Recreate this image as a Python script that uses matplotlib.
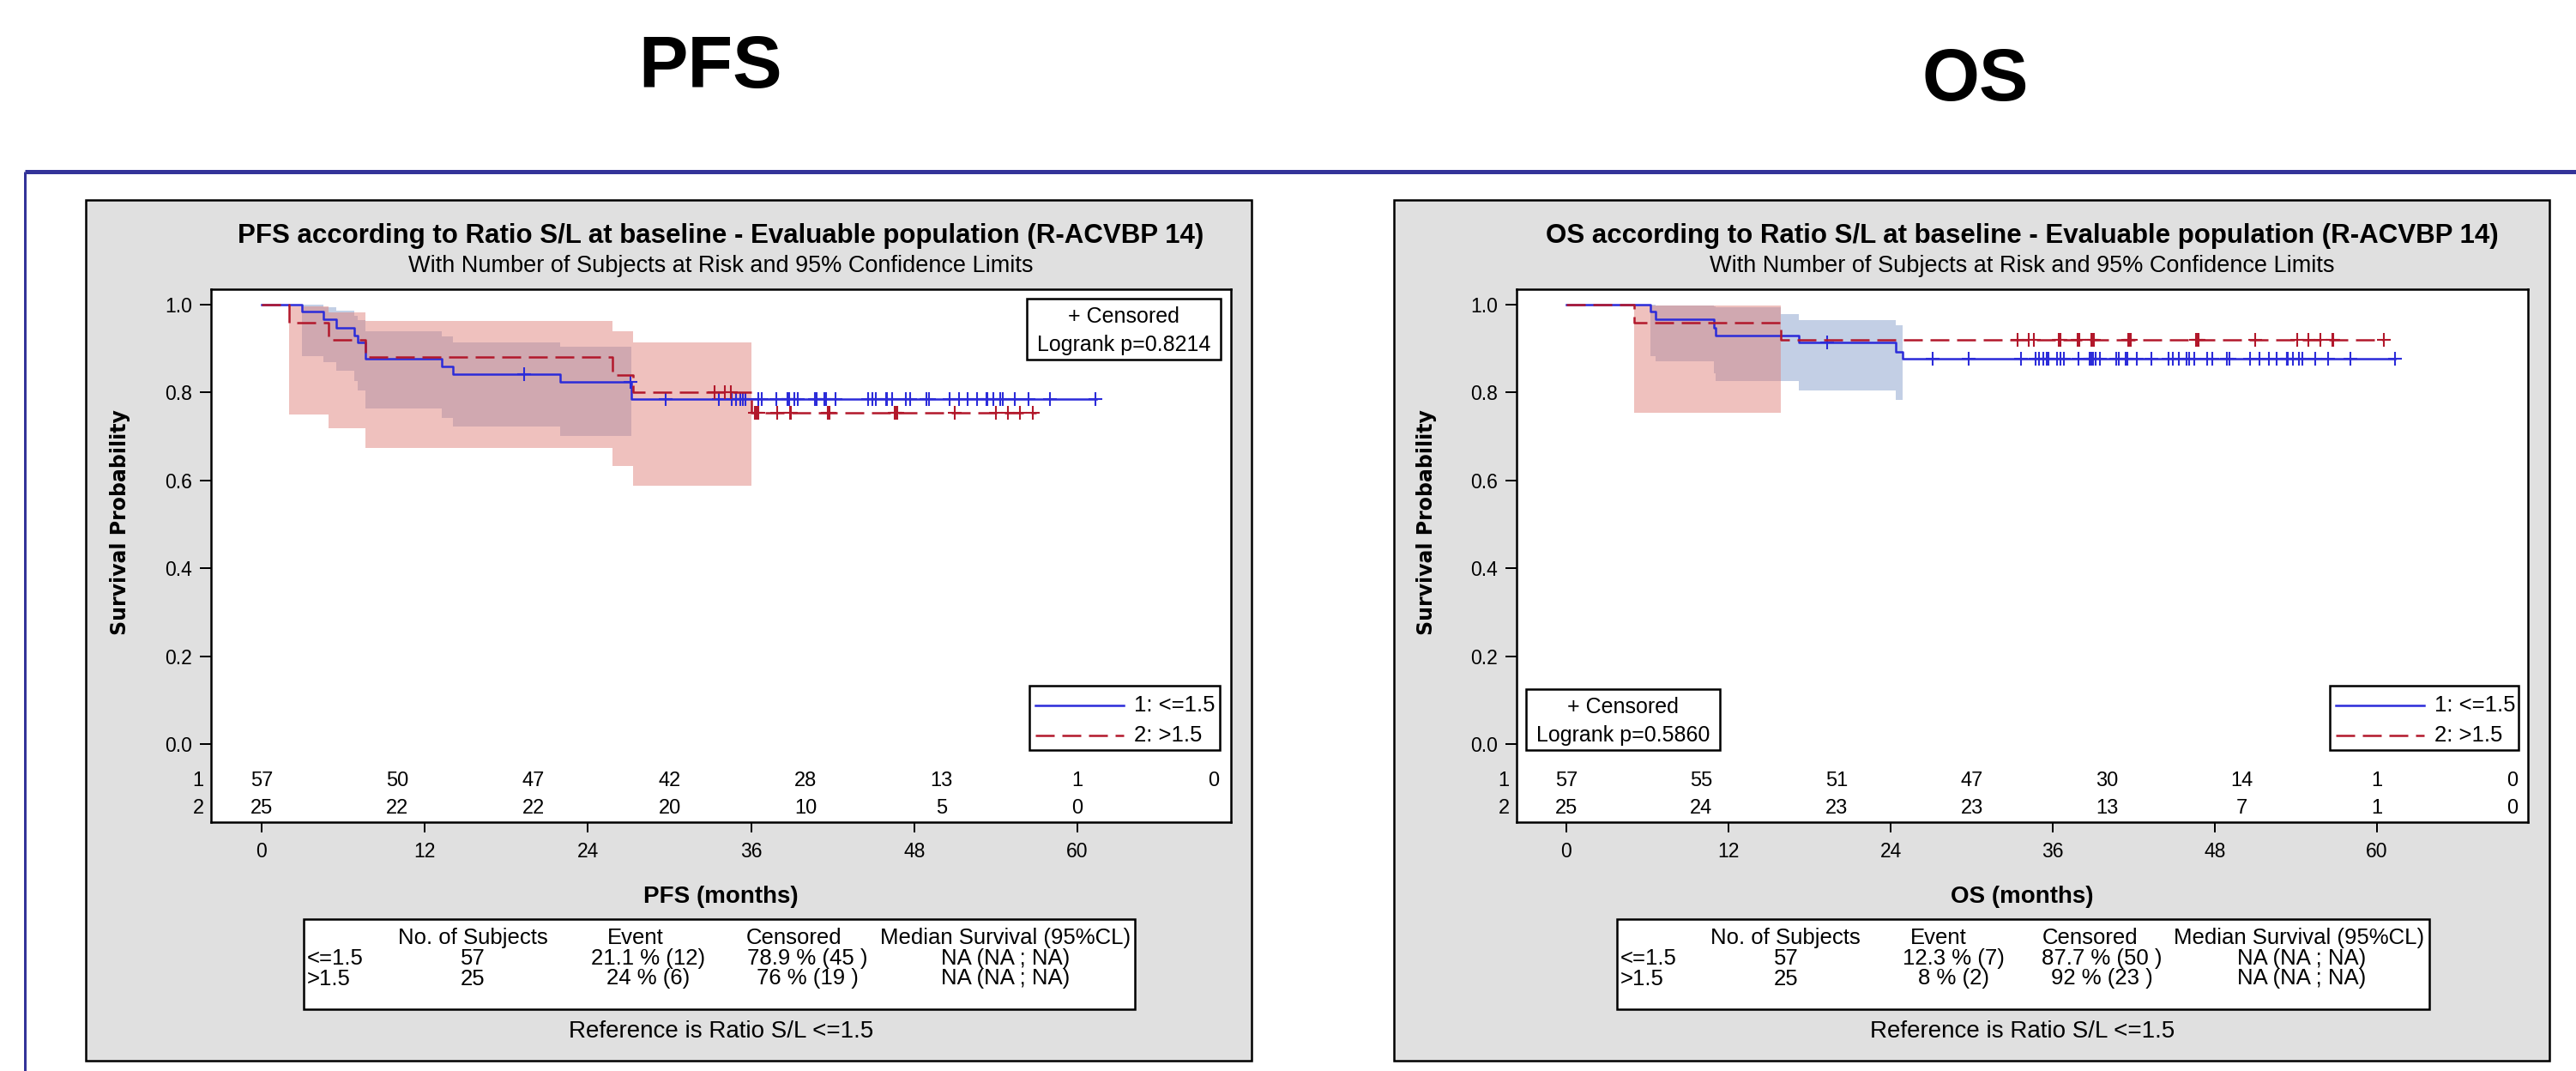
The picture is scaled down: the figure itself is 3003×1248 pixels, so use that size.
import matplotlib
matplotlib.use("Agg")
import matplotlib.pyplot as plt
from matplotlib.patches import Rectangle
import numpy as np

plt.rcParams['font.family'] = ['Liberation Sans', 'DejaVu Sans']

# %% Datos
risk_times = [0, 10, 20, 30, 40, 50, 60, 70]
x_ticks = [0, 12, 24, 36, 48, 60]
y_ticks = [0.0, 0.2, 0.4, 0.6, 0.8, 1.0]
group_labels = ["1: <=1.5", "2: >1.5"]

# PFS - grupo 1 (<=1.5)
pfs1_t = [0, 2.98, 4.56, 5.51, 6.83, 7.09, 7.63, 13.25, 14.09, 21.93, 27.19]
pfs1_s = [1.0, 0.984, 0.967, 0.947, 0.930, 0.914, 0.877, 0.860, 0.842, 0.824, 0.786]
pfs1_end = 61.4
pfs1_ci_t = [2.98, 4.56, 5.51, 6.83, 7.09, 7.63, 13.25, 14.09, 21.93, 27.19]
pfs1_lo = [0.883, 0.870, 0.849, 0.826, 0.805, 0.764, 0.743, 0.722, 0.702]
pfs1_hi = [1.0, 0.9935, 0.986, 0.975, 0.965, 0.940, 0.928, 0.915, 0.904]
pfs1_cens = [19.28, 27.1, 29.72, 33.6, 34.6, 34.9, 35.2, 35.4, 35.6, 36.55, 36.8,
             37.85, 38.7, 38.75, 38.8, 39.2, 39.4, 40.7, 40.8, 41.4, 41.5, 42.2,
             44.6, 44.9, 45.2, 45.9, 46.0, 46.4, 47.4, 47.7, 48.9, 49.1, 50.6,
             51.3, 51.9, 52.6, 53.3, 53.4, 53.8, 54.3, 54.5, 55.4, 56.4, 58.0, 61.3]

# PFS - grupo 2 (>1.5)
pfs2_t = [0, 2.0, 4.94, 7.63, 25.8, 27.3, 36.0]
pfs2_s = [1.0, 0.96, 0.92, 0.88, 0.84, 0.80, 0.753]
pfs2_end = 57.0
pfs2_ci_t = [2.0, 4.94, 7.63, 25.8, 27.3, 36.0]
pfs2_lo = [0.751, 0.719, 0.673, 0.632, 0.587]
pfs2_hi = [0.997, 0.982, 0.962, 0.940, 0.915]
pfs2_cens = [33.3, 34.1, 34.5, 36.3, 36.4, 36.5, 37.9, 38.85, 38.95, 41.65, 41.75,
             46.55, 46.65, 46.75, 51.0, 54.0, 54.9, 55.8, 56.7]

# OS - grupo 1 (<=1.5)
os1_t = [0, 6.24, 6.6, 10.9, 11.05, 17.2, 24.4, 24.9]
os1_s = [1.0, 0.984, 0.967, 0.947, 0.930, 0.914, 0.893, 0.877]
os1_end = 61.3
os1_ci_t = [6.24, 6.6, 10.9, 11.05, 15.85, 17.2, 24.4, 24.9]
os1_lo = [0.883, 0.871, 0.844, 0.8255, 0.8255, 0.805, 0.784]
os1_hi = [1.0, 0.998, 0.996, 0.9935, 0.9785, 0.9655, 0.9525]
os1_cens = [19.3, 27.1, 29.8, 33.65, 34.7, 34.96, 35.3, 35.56, 35.6, 35.7, 36.3,
            36.55, 36.8, 37.9, 38.7, 38.8, 38.9, 39.0, 39.2, 39.5, 40.7, 40.9,
            41.4, 41.5, 42.2, 43.3, 44.6, 44.9, 45.3, 45.9, 46.1, 46.5, 47.4,
            47.8, 48.9, 49.1, 50.6, 51.3, 52.0, 52.6, 53.3, 53.35, 53.4, 53.8,
            54.2, 54.5, 55.4, 56.4, 58.0, 61.3]

# OS - grupo 2 (>1.5)
os2_t = [0, 5.0, 15.85]
os2_s = [1.0, 0.96, 0.92]
os2_end = 60.5
os2_ci_t = [5.0, 15.85]
os2_lo = [0.753]
os2_hi = [0.998]
os2_cens = [33.4, 34.2, 34.6, 36.45, 36.55, 37.85, 37.95, 38.85, 38.95, 39.05,
            41.6, 41.7, 41.8, 46.6, 46.7, 46.8, 51.0, 54.1, 54.9, 55.8, 56.7,
            56.75, 60.5]

# Número de sujetos en riesgo
pfs_risk1 = [57, 50, 47, 42, 28, 13, 1, 0]
pfs_risk2 = [25, 22, 22, 20, 10, 5, 0]
os_risk1 = [57, 55, 51, 47, 30, 14, 1, 0]
os_risk2 = [25, 24, 23, 23, 13, 7, 1, 0]

# Tablas de resumen
table_header = ["No. of Subjects", "Event", "Censored", "Median Survival (95%CL)"]
pfs_rows = [["<=1.5", "57", "21.1 % (12)", "78.9 % (45 )", "NA (NA ; NA)"],
            [">1.5", "25", "24 % (6)", "76 % (19 )", "NA (NA ; NA)"]]
os_rows = [["<=1.5", "57", "12.3 % (7)", "87.7 % (50 )", "NA (NA ; NA)"],
           [">1.5", "25", "8 % (2)", "92 % (23 )", "NA (NA ; NA)"]]

# %% Estilo
W, H, DPI = 3003, 1248, 100
BLUE = "#2B2BD9"
RED = "#B2182B"
BAND_BLUE = (105 / 255, 135 / 255, 192 / 255)
BAND_RED = (223 / 255, 125 / 255, 117 / 255)
FRAME = "#333399"
PANEL_BG = "#E0E0E0"
LW = 1.8
DASH = (0, (8.8, 3.6))
YLIM = (-0.1777, 1.0352)
RISK_Y = [-0.084, -0.1465]
FS_SMALL = 18.5


def px(v):
    return v * 72 / DPI


def add_px_axes(fig, left, top, right, bottom):
    return fig.add_axes([left / W, 1 - bottom / H, (right - left) / W, (bottom - top) / H])


def km_band(ax, t, lo, hi, color, alpha, z):
    ax.fill_between(t, lo + lo[-1:], hi + hi[-1:], step="post", color=color,
                    alpha=alpha, lw=0, zorder=z)


def km_curve(ax, t, s, end, cens, color, ls, z):
    ax.step(t + [end], s + [s[-1]], where="post", color=color, lw=LW, ls=ls, zorder=z)
    ys = [s[np.searchsorted(t, c, side="right") - 1] for c in cens]
    ax.plot(cens, ys, ls="none", marker="+", ms=11, mew=1.5, color=color, zorder=z + 0.5)


def panel(fig, bg, ov, name, box, axbox, xlim, g1, g2, risk1, risk2, rows,
          cens_box, leg_box, pval, tbl_box, col_head, col_val, ylab_x):
    # fondo gris del panel
    l, t, r, b = box
    bg.add_patch(Rectangle((l, t), r - l, b - t, fc=PANEL_BG, ec="black", lw=px(2.5)))
    cx = (axbox[0] + axbox[2]) / 2
    bg.text(cx, 275, f"{name} according to Ratio S/L at baseline - Evaluable population (R-ACVBP 14)",
            ha="center", va="center", fontsize=22.5, weight="bold")
    bg.text(cx, 310, "With Number of Subjects at Risk and 95% Confidence Limits",
            ha="center", va="center", fontsize=19.5)
    bg.text(ylab_x, 609, "Survival Probability", rotation=90, ha="center", va="center",
            fontsize=17, weight="bold", family="DejaVu Sans")
    bg.text(cx, 1045, f"{name} (months)", ha="center", va="center", fontsize=20, weight="bold")
    bg.text(cx, 1202, "Reference is Ratio S/L <=1.5", ha="center", va="center", fontsize=20)

    # ejes de la curva
    ax = add_px_axes(fig, *axbox)
    ax.set_facecolor("white")
    km_band(ax, *g1[4:7], BAND_BLUE, 0.4, 1)
    km_band(ax, *g2[4:7], BAND_RED, 0.47, 2)
    km_curve(ax, g1[0], g1[1], g1[2], g1[3], BLUE, "-", 3)
    km_curve(ax, g2[0], g2[1], g2[2], g2[3], RED, DASH, 4)
    ax.set_xlim(*xlim)
    ax.set_ylim(*YLIM)
    ax.set_xticks(x_ticks)
    ax.set_yticks(y_ticks)
    ax.set_yticklabels([f"{v:.1f}" for v in y_ticks])
    ax.tick_params(axis="y", length=px(13), width=px(2), pad=px(9), labelsize=16.5)
    ax.tick_params(axis="x", length=px(12), width=px(2), pad=px(11), labelsize=16.5)
    for sp in ax.spines.values():
        sp.set_linewidth(px(2.5))

    for x, n in zip(risk_times, risk1):
        ax.text(x, RISK_Y[0], str(n), ha="center", va="center", fontsize=17)
    for x, n in zip(risk_times, risk2):
        ax.text(x, RISK_Y[1], str(n), ha="center", va="center", fontsize=17)
    for k, yy in enumerate(RISK_Y):
        ax.text(-0.0126, yy, str(k + 1), transform=ax.get_yaxis_transform(),
                ha="center", va="center", fontsize=17)

    # cuadro "+ Censored / Logrank"
    l, t, r, b = cens_box
    ov.add_patch(Rectangle((l, t), r - l, b - t, fc="white", ec="black", lw=px(2.5)))
    ov.text((l + r) / 2, t + 0.29 * (b - t), "+ Censored", ha="center", va="center", fontsize=18)
    ov.text((l + r) / 2, t + 0.76 * (b - t), f"Logrank p={pval}", ha="center", va="center", fontsize=18)

    # leyenda de grupos
    l, t, r, b = leg_box
    ov.add_patch(Rectangle((l, t), r - l, b - t, fc="white", ec="black", lw=px(2.5)))
    for k, (c, ls) in enumerate([(BLUE, "-"), (RED, DASH)]):
        yy = t + (0.31 + 0.46 * k) * (b - t)
        ov.plot([l + 7, l + 110], [yy, yy], color=c, lw=LW, ls=ls)
        ov.text(l + 122, yy, group_labels[k], ha="left", va="center", fontsize=FS_SMALL)

    # tabla resumen
    l, t, r, b = tbl_box
    bg.add_patch(Rectangle((l, t), r - l, b - t, fc="white", ec="black", lw=px(2.5)))
    for x, txt in zip(col_head, table_header):
        bg.text(l + x, 1093, txt, ha="center", va="center", fontsize=FS_SMALL)
    for k, row in enumerate(rows):
        yy = 1117 + 23.5 * k
        bg.text(l + 4, yy, row[0], ha="left", va="center", fontsize=FS_SMALL)
        for x, txt in zip(col_val, row[1:]):
            bg.text(l + x, yy, txt, ha="center", va="center", fontsize=FS_SMALL)
    return ax


fig = plt.figure(figsize=(W / DPI, H / DPI), dpi=DPI)
bg = fig.add_axes([0, 0, 1, 1])
bg.set_xlim(0, W)
bg.set_ylim(H, 0)
bg.axis("off")

# titulos grandes y marco azul
bg.text(828, 80, "PFS", ha="center", va="center", fontsize=62, weight="bold")
bg.text(2303, 95, "OS", ha="center", va="center", fontsize=62, weight="bold")
bg.plot([29, W], [200, 200], color=FRAME, lw=px(5), solid_capstyle="butt")
bg.plot([29, 29], [200, H], color=FRAME, lw=px(3), solid_capstyle="butt")

pfs_g1 = (pfs1_t, pfs1_s, pfs1_end, pfs1_cens, pfs1_ci_t, pfs1_lo, pfs1_hi)
pfs_g2 = (pfs2_t, pfs2_s, pfs2_end, pfs2_cens, pfs2_ci_t, pfs2_lo, pfs2_hi)
os_g1 = (os1_t, os1_s, os1_end, os1_cens, os1_ci_t, os1_lo, os1_hi)
os_g2 = (os2_t, os2_s, os2_end, os2_cens, os2_ci_t, os2_lo, os2_hi)

# capa superior para las cajas dentro del grafico
ov = fig.add_axes([0, 0, 1, 1], zorder=10)
ov.set_xlim(0, W)
ov.set_ylim(H, 0)
ov.axis("off")
ov.patch.set_alpha(0)

panel(fig, bg, ov, "PFS", (100, 233, 1459, 1236), (246, 337, 1435, 958), (-3.72, 71.29),
      pfs_g1, pfs_g2, pfs_risk1, pfs_risk2, pfs_rows,
      (1197, 348, 1423, 419), (1200, 799, 1422, 874), "0.8214",
      (354, 1071, 1323, 1176), [197, 387, 572, 818], [197, 402, 587, 818], 140)
panel(fig, bg, ov, "OS", (1625, 233, 2972, 1236), (1768, 337, 2947, 958), (-3.68, 71.17),
      os_g1, os_g2, os_risk1, os_risk2, os_rows,
      (1779, 803, 2005, 874), (2716, 799, 2936, 874), "0.5860",
      (1885, 1071, 2832, 1176), [196, 375, 552, 795], [197, 392, 565, 798], 1663)

fig.savefig("out.png", dpi=DPI)
